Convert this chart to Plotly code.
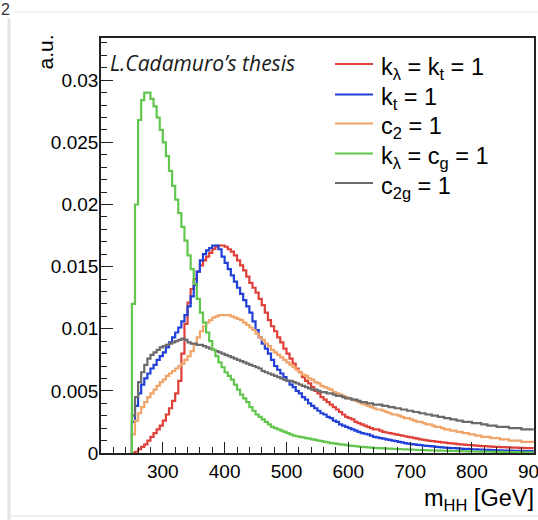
import plotly.graph_objects as go

# ---------------- data ----------------
bin_lo = 250.0
bin_w = 5.0

green_kl_cg = [
    0.0120, 0.0200, 0.0268, 0.0284, 0.0290, 0.0290, 0.0285, 0.0279, 0.0270, 0.0260,
    0.0250, 0.0239, 0.0227, 0.0215, 0.0204, 0.0193, 0.0182, 0.0171, 0.0159, 0.0148,
    0.0136, 0.0124, 0.0113, 0.0105, 0.0097, 0.0090, 0.0083, 0.0078, 0.0073, 0.0069,
    0.0065, 0.0062, 0.0059, 0.0055, 0.0051, 0.0047, 0.0044, 0.0041, 0.0037, 0.0034,
    0.0031, 0.0029, 0.0027, 0.0025, 0.0023, 0.0021, 0.0020, 0.0019, 0.0018, 0.0017,
    0.0016, 0.0015, 0.0014, 0.00135, 0.0013, 0.00125, 0.0012, 0.00115, 0.0011, 0.00105,
    0.0010, 0.00095, 0.0009, 0.00085, 0.0008, 0.00077, 0.00073, 0.0007, 0.00067, 0.00063,
    0.0006, 0.00058, 0.00055, 0.00052, 0.0005, 0.00048, 0.00046, 0.00044, 0.00042, 0.0004,
    0.00039, 0.00037, 0.00036, 0.00035, 0.00034, 0.00032, 0.00031, 0.0003, 0.00029, 0.00028,
    0.00027, 0.00026, 0.00025, 0.00024, 0.00023, 0.00022, 0.00021, 0.0002, 0.0002, 0.00019,
    0.00018, 0.00018, 0.00017, 0.00016, 0.00016, 0.00015, 0.00015, 0.00014, 0.00013, 0.00013,
    0.00012, 0.00012, 0.00011, 0.00011, 0.0001, 0.0001, 0.0001, 0.00009, 0.00009, 0.00009,
    0.00008, 0.00008, 0.00008, 0.00007, 0.00007, 0.00007, 0.00006, 0.00006, 0.00006, 0.00006,
]

blue_kt = [
    0.0025, 0.0038, 0.0048, 0.0055, 0.0060, 0.0064, 0.0068, 0.0071, 0.0075, 0.0078,
    0.0081, 0.0085, 0.0089, 0.0093, 0.0097, 0.0101, 0.0106, 0.0111, 0.0118, 0.0126,
    0.0135, 0.0146, 0.0155, 0.0160, 0.0163, 0.0165, 0.0167, 0.0167, 0.0164, 0.0158,
    0.0153, 0.0148, 0.0143, 0.0138, 0.0133, 0.0128, 0.0123, 0.0118, 0.0113, 0.0106,
    0.0099, 0.0093, 0.0088, 0.0084, 0.0080, 0.0075, 0.0070, 0.0067, 0.0064, 0.0061,
    0.0058, 0.0055, 0.0053, 0.0050, 0.0048, 0.0045, 0.0043, 0.0040, 0.0038, 0.0036,
    0.0034, 0.0032, 0.0031, 0.0029, 0.0028, 0.0026, 0.0025, 0.0023, 0.0022, 0.0021,
    0.0020, 0.0019, 0.0018, 0.0017, 0.0016, 0.00155, 0.0015, 0.0014, 0.0013, 0.00125,
    0.0012, 0.00115, 0.0011, 0.00105, 0.0010, 0.00095, 0.0009, 0.00085, 0.0008, 0.00076,
    0.00072, 0.00069, 0.00066, 0.00063, 0.0006, 0.00057, 0.00055, 0.00053, 0.0005, 0.00048,
    0.00046, 0.00044, 0.00042, 0.0004, 0.00039, 0.00037, 0.00036, 0.00034, 0.00033, 0.00032,
    0.0003, 0.00029, 0.00028, 0.00027, 0.00026, 0.00025, 0.00024, 0.00023, 0.00022, 0.00021,
    0.0002, 0.0002, 0.00019, 0.00018, 0.00018, 0.00017, 0.00016, 0.00016, 0.00015, 0.00015,
]

red_kl_kt = [
    0.0000, 0.0001, 0.0003, 0.0005, 0.0007, 0.0010, 0.0013, 0.0016, 0.0019, 0.0022,
    0.0026, 0.0031, 0.0036, 0.0042, 0.0048, 0.0058, 0.0080, 0.0104, 0.0121, 0.0132,
    0.0140, 0.0146, 0.0151, 0.0155, 0.0158, 0.0161, 0.0164, 0.0166, 0.0167, 0.0167,
    0.0166, 0.0164, 0.0162, 0.0159, 0.0155, 0.0151, 0.0147, 0.0142, 0.0137, 0.0133,
    0.0129, 0.0124, 0.0119, 0.0113, 0.0107, 0.0102, 0.0098, 0.0093, 0.0089, 0.0084,
    0.0080, 0.0076, 0.0072, 0.0068, 0.0065, 0.0061, 0.0058, 0.0056, 0.0053, 0.0050,
    0.0048, 0.0045, 0.0043, 0.0041, 0.0039, 0.0037, 0.0035, 0.0033, 0.0031, 0.0029,
    0.0028, 0.0027, 0.0025, 0.0024, 0.0023, 0.0022, 0.0021, 0.0020, 0.0019, 0.0019,
    0.0018, 0.0017, 0.00165, 0.0016, 0.00155, 0.0015, 0.00145, 0.0014, 0.00135, 0.0013,
    0.00125, 0.0012, 0.00115, 0.0011, 0.00106, 0.00102, 0.00098, 0.00095, 0.00092, 0.00089,
    0.00086, 0.00083, 0.0008, 0.00077, 0.00075, 0.00072, 0.0007, 0.00068, 0.00066, 0.00064,
    0.00062, 0.0006, 0.00058, 0.00056, 0.00055, 0.00053, 0.00052, 0.0005, 0.00049, 0.00048,
    0.00047, 0.00046, 0.00045, 0.00044, 0.00043, 0.00042, 0.00041, 0.0004, 0.0004, 0.00039,
]

orange_c2 = [
    0.0015, 0.0026, 0.0032, 0.0037, 0.0041, 0.0045, 0.0048, 0.0051, 0.0054, 0.0057,
    0.0059, 0.0062, 0.0064, 0.0066, 0.0068, 0.0070, 0.0072, 0.0075, 0.0078, 0.0082,
    0.0087, 0.0093, 0.0098, 0.0102, 0.0105, 0.0107, 0.0109, 0.0110, 0.0111, 0.0111,
    0.0111, 0.0111, 0.0110, 0.0109, 0.0108, 0.0107, 0.0105, 0.0103, 0.0101, 0.0099,
    0.0096, 0.0093, 0.0091, 0.0088, 0.0086, 0.0083, 0.0081, 0.0079, 0.0077, 0.0075,
    0.0073, 0.0071, 0.0069, 0.0067, 0.0065, 0.0063, 0.0062, 0.0060, 0.0059, 0.0057,
    0.0056, 0.0054, 0.0053, 0.0052, 0.0051, 0.0049, 0.0048, 0.0047, 0.0046, 0.0045,
    0.0044, 0.0043, 0.0042, 0.0041, 0.0040, 0.0039, 0.0038, 0.0037, 0.0036, 0.0035,
    0.0035, 0.0034, 0.0033, 0.0032, 0.0031, 0.0031, 0.0030, 0.0029, 0.0028, 0.0028,
    0.0027, 0.0026, 0.0025, 0.0025, 0.0024, 0.0023, 0.0023, 0.0022, 0.0021, 0.0021,
    0.0020, 0.0019, 0.0019, 0.0018, 0.0018, 0.0017, 0.0017, 0.0016, 0.0016, 0.0015,
    0.0015, 0.0014, 0.0014, 0.0013, 0.0013, 0.0013, 0.0012, 0.0012, 0.0012, 0.0011,
    0.0011, 0.0011, 0.0010, 0.0010, 0.0010, 0.0010, 0.0009, 0.0009, 0.0009, 0.0009,
]

gray_c2g = [
    0.0030, 0.0045, 0.0057, 0.0065, 0.0071, 0.0076, 0.0079, 0.0081, 0.0083, 0.0085,
    0.0086, 0.0087, 0.0088, 0.0089, 0.0090, 0.0091, 0.0092, 0.0091, 0.0089, 0.0088,
    0.0088, 0.0087, 0.0087, 0.0086, 0.0085, 0.0084, 0.0083, 0.0082, 0.0081, 0.0080,
    0.0079, 0.0078, 0.0077, 0.0076, 0.0075, 0.0074, 0.0073, 0.0072, 0.0071, 0.0070,
    0.0069, 0.0068, 0.0066, 0.0065, 0.0064, 0.0063, 0.0062, 0.0061, 0.0060, 0.0059,
    0.0058, 0.0058, 0.0057, 0.0056, 0.0055, 0.0054, 0.0053, 0.0052, 0.0051, 0.0051,
    0.0050, 0.0049, 0.0049, 0.0048, 0.0048, 0.0047, 0.0046, 0.0046, 0.0045, 0.0044,
    0.0044, 0.0043, 0.0043, 0.0042, 0.0041, 0.0041, 0.0040, 0.0040, 0.0039, 0.0039,
    0.0039, 0.0038, 0.0038, 0.0037, 0.0037, 0.0036, 0.0036, 0.0035, 0.0035, 0.0034,
    0.0034, 0.0033, 0.0033, 0.0032, 0.0032, 0.0031, 0.0031, 0.0030, 0.0030, 0.0029,
    0.0029, 0.0028, 0.0028, 0.0027, 0.0027, 0.0026, 0.0026, 0.0025, 0.0025, 0.0025,
    0.0024, 0.0024, 0.0024, 0.0023, 0.0023, 0.0022, 0.0022, 0.0022, 0.0021, 0.0021,
    0.0021, 0.0021, 0.0020, 0.0020, 0.0020, 0.0020, 0.0019, 0.0019, 0.0019, 0.0019,
]

series_names = [
    "k<sub>λ</sub> = k<sub>t</sub> = 1",
    "k<sub>t</sub> = 1",
    "c<sub>2</sub> = 1",
    "k<sub>λ</sub> = c<sub>g</sub> = 1",
    "c<sub>2g</sub> = 1",
]
series_values = [red_kl_kt, blue_kt, orange_c2, green_kl_cg, gray_c2g]
series_colors = ["#e0403a", "#2140d8", "#f0a468", "#62c64e", "#6a6a6a"]

y_tick_vals = [0, 0.005, 0.01, 0.015, 0.02, 0.025, 0.03]
y_tick_text = ["0", "0.005", "0.01", "0.015", "0.02", "0.025", "0.03"]
x_tick_vals = [300, 400, 500, 600, 700, 800, 900]
x_tick_text = ["300", "400", "500", "600", "700", "800", "900"]

# ---------------- geometry ----------------
W, H = 538, 520
ML, MR, MT, MB = 101, 4, 38, 67
PW = W - ML - MR
PH = H - MT - MB


def px(xp):
    return (xp - ML) / PW


def py(yp):
    return (H - MB - yp) / PH


fig = go.Figure()

draw_order = [0, 1, 2, 4, 3]
for i in draw_order:
    vals = series_values[i]
    edges = [bin_lo + bin_w * k for k in range(len(vals) + 1)]
    xs = [bin_lo] + edges
    ys = [0.0] + list(vals) + [vals[-1]]
    fig.add_trace(go.Scatter(
        x=xs, y=ys, mode="lines", line_shape="hv",
        line=dict(color=series_colors[i], width=2.2),
        showlegend=False, hoverinfo="skip",
    ))

FONT = "Liberation Sans, Arial, Helvetica, sans-serif"
AXC = "#222222"
TXT = "#000000"

fig.update_layout(
    width=W, height=H,
    margin=dict(l=ML, r=MR, t=MT, b=MB, pad=0),
    paper_bgcolor="white", plot_bgcolor="white",
    font=dict(family=FONT, color=TXT),
    xaxis=dict(
        range=[200, 900.4], showgrid=False, zeroline=False,
        showline=True, mirror=True, linecolor=AXC, linewidth=1.6,
        ticks="inside", ticklen=11, tickwidth=1.2, tickcolor=AXC,
        tickvals=x_tick_vals, ticktext=x_tick_text,
        tickfont=dict(family=FONT, size=19, color=TXT),
        ticklabeloverflow="allow",
        minor=dict(ticks="inside", ticklen=6, tickwidth=1, tickcolor=AXC, dtick=20, tick0=200, showgrid=False),
        automargin=False,
    ),
    yaxis=dict(
        range=[0, 0.0334], showgrid=False, zeroline=False,
        showline=True, mirror=True, linecolor=AXC, linewidth=1.6,
        ticks="inside", ticklen=12, tickwidth=1.2, tickcolor=AXC,
        tickvals=y_tick_vals, ticktext=y_tick_text,
        tickfont=dict(family=FONT, size=19, color=TXT),
        ticklabelstandoff=-3,
        minor=dict(ticks="inside", ticklen=6, tickwidth=1, tickcolor=AXC, dtick=0.001, tick0=0, showgrid=False),
        automargin=False,
    ),
)

annotations = []
shapes = []

# axis titles
annotations.append(dict(
    text="a.u.", xref="paper", yref="paper", x=px(45), y=py(32),
    xanchor="center", yanchor="top", textangle=-90, showarrow=False,
    font=dict(family=FONT, size=21, color=TXT),
))
annotations.append(dict(
    text="m<sub>HH</sub> [GeV]", xref="paper", yref="paper", x=px(536), y=py(499),
    xanchor="right", yanchor="middle", showarrow=False,
    font=dict(family=FONT, size=23.5, color=TXT),
))

# thesis label
annotations.append(dict(
    text="<i>L.Cadamuro’s thesis</i>", xref="paper", yref="paper", x=px(108), y=py(63),
    xanchor="left", yanchor="middle", showarrow=False,
    font=dict(family="Open Sans, Noto Sans, sans-serif", size=21, color="#1a1a1a"),
))

# custom legend
leg_rows = [64, 94.5, 123.5, 153.5, 183]
for name, color, yr in zip(series_names, series_colors, leg_rows):
    shapes.append(dict(type="line", xref="paper", yref="paper",
                       x0=px(335), x1=px(373), y0=py(yr), y1=py(yr),
                       line=dict(color=color, width=2.2)))
    annotations.append(dict(
        text=name, xref="paper", yref="paper", x=px(379), y=py(yr + 4),
        xanchor="left", yanchor="middle", showarrow=False,
        font=dict(family=FONT, size=23.5, color=TXT),
    ))

# slide remnants
annotations.append(dict(
    text="2", xref="paper", yref="paper", x=px(5), y=py(9),
    xanchor="center", yanchor="middle", showarrow=False,
    font=dict(family=FONT, size=16, color="#333333"),
))
shapes.append(dict(type="line", xref="paper", yref="paper",
                   x0=px(9), x1=px(9), y0=py(18), y1=py(520),
                   line=dict(color="#e4e4e4", width=3)))
shapes.append(dict(type="line", xref="paper", yref="paper",
                   x0=px(14), x1=px(538), y0=py(12), y1=py(12),
                   line=dict(color="#eeeeee", width=1.5)))
shapes.append(dict(type="line", xref="paper", yref="paper",
                   x0=px(9), x1=px(538), y0=py(516), y1=py(516),
                   line=dict(color="#e8e8e8", width=1.5)))

fig.update_layout(annotations=annotations, shapes=shapes)

fig.write_html("out.html")
